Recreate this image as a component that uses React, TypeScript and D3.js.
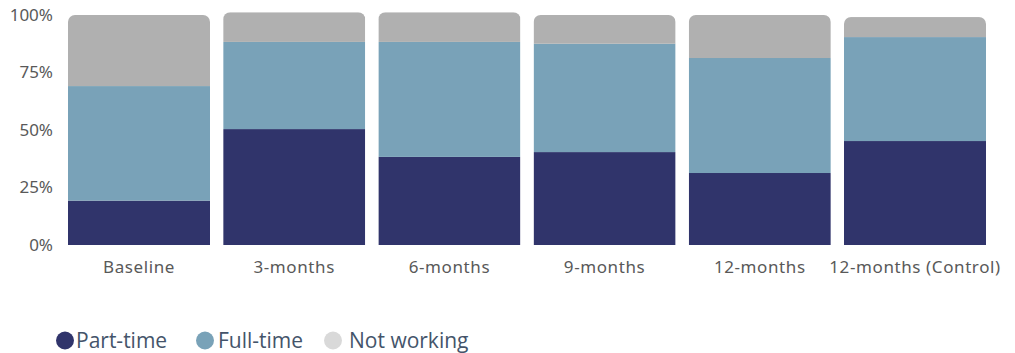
import React from "react";
import * as d3 from "d3";

const categories = ["Baseline", "3-months", "6-months", "9-months", "12-months", "12-months (Control)"];
const partTime = [19.3, 50.4, 38.3, 40.4, 31.3, 45.2];
const fullTime = [49.8, 37.9, 50.0, 47.1, 50.0, 45.2];
const notWorking = [30.9, 12.9, 12.9, 12.5, 18.7, 8.7];
const yTicks = [0, 25, 50, 75, 100];

const seriesNames = ["Part-time", "Full-time", "Not working"];
const seriesColors = ["#30346b", "#79a2b8", "#b0b0b0"];
const legendColors = ["#30346b", "#79a2b8", "#d9d9d9"];

const W = 1015;
const H = 353;

export default function App() {
  const x = d3
    .scaleBand<string>()
    .domain(categories)
    .range([61.4, 992.6])
    .paddingInner(0.085)
    .paddingOuter(0.0425);
  const y = d3.scaleLinear().domain([0, 100]).range([245, 15]);

  const rows = categories.map((c, i) => ({
    cat: c,
    "Part-time": partTime[i],
    "Full-time": fullTime[i],
    "Not working": notWorking[i],
  }));
  const stack = d3.stack<any>().keys(seriesNames);
  const layers = stack(rows);

  const legendX = [65, 205, 333];
  const legendTextX = [76, 218, 349];

  return (
    <svg
      width={W}
      height={H}
      style={{ position: "absolute", left: 0, top: 0, background: "#fff" }}
    >
      <defs>
        {categories.map((c, i) => {
          const total = partTime[i] + fullTime[i] + notWorking[i];
          return (
            <clipPath id={`clip${i}`} key={c}>
              <rect
                x={x(c)}
                y={y(total)}
                width={x.bandwidth()}
                height={y(0) - y(total) + 20}
                rx={7}
                ry={7}
              />
            </clipPath>
          );
        })}
      </defs>
      {categories.map((c, i) => (
        <g key={c} clipPath={`url(#clip${i})`}>
          {layers.map((layer, li) => {
            const d = layer[i];
            return (
              <rect
                key={li}
                x={x(c)}
                y={y(d[1])}
                width={x.bandwidth()}
                height={y(d[0]) - y(d[1])}
                fill={seriesColors[li]}
              />
            );
          })}
        </g>
      ))}
      {yTicks.map((t) => (
        <text
          key={t}
          x={53}
          y={y(t)}
          dy="0.35em"
          textAnchor="end"
          fontFamily="'Noto Sans', sans-serif"
          fontSize={17}
          fill="#595959"
        >
          {t}%
        </text>
      ))}
      {categories.map((c) => (
        <text
          key={c}
          x={(x(c) as number) + x.bandwidth() / 2}
          y={267}
          dy="0.35em"
          textAnchor="middle"
          fontFamily="'Noto Sans', sans-serif"
          fontSize={17}
          letterSpacing={0.6}
          fill="#595959"
        >
          {c}
        </text>
      ))}
      {seriesNames.map((s, i) => (
        <g key={s}>
          <circle cx={legendX[i]} cy={340.5} r={9} fill={legendColors[i]} />
          <text
            x={legendTextX[i]}
            y={340.5}
            dy="0.35em"
            fontFamily="'Open Sans', sans-serif"
            fontSize={21}
            fill="#44546a"
          >
            {s}
          </text>
        </g>
      ))}
    </svg>
  );
}
